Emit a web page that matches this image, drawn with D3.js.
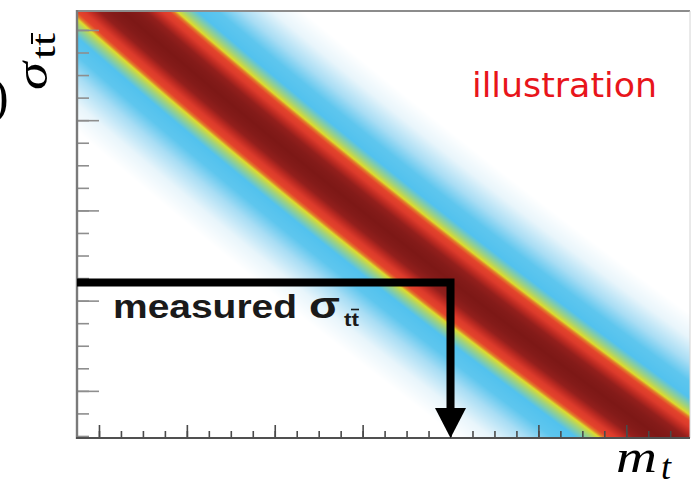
<!DOCTYPE html>
<html>
<head>
<meta charset="utf-8">
<script src="https://cdn.jsdelivr.net/npm/d3@7"></script>
<style>
  html, body { margin: 0; padding: 0; background: #fff; overflow: hidden; }
  svg { display: block; }
</style>
</head>
<body>
<svg id="chart" width="692" height="484"></svg>
<script>
// Ridge of the likelihood: top mass at which each cross-section is most likely (arbitrary units)
const ridgeSigma = [21, 18, 15, 12, 9, 6, 3, 0, -3];
const ridgeMt    = [-0.45, 3.05, 6.66, 10.39, 14.23, 18.19, 22.27, 26.46, 30.78];

const measuredSigma = 6.8;
const extractedMt = 17.0;

// Tick positions (no labels on either axis)
const xMinorTicks = d3.range(1, 28);
const xMajorTicks = [1, 5, 9, 13, 17, 21, 25];
const yMinorTicks = d3.range(0, 19);
const yMajorTicks = [2, 6, 10, 14, 18];

// ---------------------------------------------------------------
const plot = { left: 77, right: 690, top: 11, bottom: 438 };

const x = d3.scaleLinear().domain([0, 27.9]).range([plot.left, plot.right]);
const y = d3.scaleLinear().domain([-0.09, 18.84]).range([plot.bottom, plot.top]);

const svg = d3.select('#chart');

// Ridge line, sampled to find the centre of the band on every pixel row
const ridge = ridgeMt.map((m, i) => [m, ridgeSigma[i]]);
const ridgeLine = d3.line()
  .x(d => x(d[0]))
  .y(d => y(d[1]))
  .curve(d3.curveCatmullRom.alpha(0.5));

const ridgePath = svg.append('path')
  .attr('d', ridgeLine(ridge))
  .attr('fill', 'none')
  .attr('stroke', 'none');

const node = ridgePath.node();
const totalLen = node.getTotalLength();
const samples = [];
for (let s = 0; s <= totalLen; s += 1) {
  const p = node.getPointAtLength(s);
  samples.push([p.x, p.y]);
}
samples.sort((a, b) => a[1] - b[1]);
const byY = d3.bisector(d => d[1]).left;

function ridgeAt(Y) {
  let i = byY(samples, Y);
  i = Math.max(1, Math.min(samples.length - 1, i));
  const a = samples[i - 1], b = samples[i];
  const t = (Y - a[1]) / ((b[1] - a[1]) || 1);
  const xc = a[0] + t * (b[0] - a[0]);
  const j0 = Math.max(0, i - 10), j1 = Math.min(samples.length - 1, i + 10);
  const k = (samples[j1][0] - samples[j0][0]) / ((samples[j1][1] - samples[j0][1]) || 1);
  return [xc, k];
}

// Colour as a function of distance from the ridge, in units of the band width
const bandWidthPx = 34;
const bandColor = d3.scaleLinear()
  .domain([0, 0.25, 0.45, 0.6, 0.75, 0.9, 0.98, 1.05, 1.2, 1.45, 1.85, 2.3, 2.9, 3.5])
  .range(['#7d1816', '#841b19', '#931f1c', '#bb2a22', '#dc3a2b', '#e4452b', '#e27a2a', '#dcdb2e',
          '#9fd27e', '#52c2ee', '#5ec6ee', '#a8ddf4', '#e8f5fb', '#ffffff'])
  .clamp(true);

const LUT_N = 2048, LUT_MAX = 3.6;
const lut = new Uint8ClampedArray(LUT_N * 3);
for (let i = 0; i < LUT_N; i++) {
  const c = d3.rgb(bandColor(i / (LUT_N - 1) * LUT_MAX));
  lut[i * 3] = c.r; lut[i * 3 + 1] = c.g; lut[i * 3 + 2] = c.b;
}

const cw = plot.right - plot.left, ch = plot.bottom - plot.top;
const canvas = document.createElement('canvas');
canvas.width = cw; canvas.height = ch;
const ctx = canvas.getContext('2d');
const img = ctx.createImageData(cw, ch);
for (let r = 0; r < ch; r++) {
  const Y = plot.top + r + 0.5;
  const [xc, k] = ridgeAt(Y);
  const f = 1 / Math.sqrt(1 + k * k);
  for (let c = 0; c < cw; c++) {
    const X = plot.left + c + 0.5;
    const t = Math.abs(X - xc) * f / bandWidthPx;
    let li = Math.round(t / LUT_MAX * (LUT_N - 1));
    if (li > LUT_N - 1) li = LUT_N - 1;
    const o = (r * cw + c) * 4;
    img.data[o] = lut[li * 3];
    img.data[o + 1] = lut[li * 3 + 1];
    img.data[o + 2] = lut[li * 3 + 2];
    img.data[o + 3] = 255;
  }
}
ctx.putImageData(img, 0, 0);

svg.insert('image', ':first-child')
  .attr('x', plot.left).attr('y', plot.top)
  .attr('width', cw).attr('height', ch)
  .attr('href', canvas.toDataURL());

// Frame
svg.append('line').attr('x1', plot.left).attr('x2', plot.right)
  .attr('y1', plot.top).attr('y2', plot.top)
  .attr('stroke', '#8c8c8c').attr('stroke-width', 2);
svg.append('line').attr('x1', plot.right).attr('x2', plot.right)
  .attr('y1', plot.top).attr('y2', plot.bottom)
  .attr('stroke', '#d4d4d4').attr('stroke-width', 1);

// Axes: ticks point into the plot
function styleAxis(g, color) {
  g.select('.domain').remove();
  g.selectAll('.tick line').attr('stroke', color).attr('stroke-width', 1.6);
  g.selectAll('.tick text').remove();
}
svg.append('g').attr('transform', `translate(0,${plot.bottom})`)
  .call(d3.axisBottom(x).tickValues(xMinorTicks).tickSize(-7).tickSizeOuter(0).tickFormat(''))
  .call(g => styleAxis(g, '#4a4a4a'));
svg.append('g').attr('transform', `translate(0,${plot.bottom})`)
  .call(d3.axisBottom(x).tickValues(xMajorTicks).tickSize(-13).tickSizeOuter(0).tickFormat(''))
  .call(g => styleAxis(g, '#4a4a4a'));
svg.append('g').attr('transform', `translate(${plot.left},0)`)
  .call(d3.axisLeft(y).tickValues(yMinorTicks).tickSize(-12).tickSizeOuter(0).tickFormat(''))
  .call(g => styleAxis(g, '#8e8e8e'));
svg.append('g').attr('transform', `translate(${plot.left},0)`)
  .call(d3.axisLeft(y).tickValues(yMajorTicks).tickSize(-22).tickSizeOuter(0).tickFormat(''))
  .call(g => styleAxis(g, '#8e8e8e'));

svg.append('line').attr('x1', plot.left).attr('x2', plot.left)
  .attr('y1', plot.top - 1).attr('y2', plot.bottom + 1)
  .attr('stroke', '#7a7a7a').attr('stroke-width', 2.4);
svg.append('line').attr('x1', plot.left - 1).attr('x2', plot.right)
  .attr('y1', plot.bottom).attr('y2', plot.bottom)
  .attr('stroke', '#505050').attr('stroke-width', 2);

// Arrow: measured cross-section -> ridge -> mass
const headH = 30, headW = 31;
svg.append('path')
  .attr('d', `M${x(0)},${y(measuredSigma)} H${x(extractedMt)} V${plot.bottom - headH + 2}`)
  .attr('fill', 'none').attr('stroke', '#000').attr('stroke-width', 8)
  .attr('stroke-linejoin', 'miter');
svg.append('path')
  .attr('d', `M${x(extractedMt) - headW / 2},${plot.bottom - headH} L${x(extractedMt) + headW / 2},${plot.bottom - headH} L${x(extractedMt)},${plot.bottom} Z`)
  .attr('fill', '#000');

// "measured σ_tt̄" label
const sans = 'Liberation Sans, Arial, Helvetica, sans-serif';
svg.append('text').attr('x', 113).attr('y', 318)
  .attr('font-family', sans).attr('font-weight', 'bold').attr('font-size', 34)
  .attr('fill', '#1a1a1a')
  .attr('textLength', 184).attr('lengthAdjust', 'spacingAndGlyphs')
  .text('measured');
svg.append('text').attr('x', 309).attr('y', 318)
  .attr('font-family', sans).attr('font-weight', 'bold').attr('font-size', 36)
  .attr('fill', '#1a1a1a')
  .attr('textLength', 31).attr('lengthAdjust', 'spacingAndGlyphs')
  .text('σ');
svg.append('text').attr('x', 344).attr('y', 326)
  .attr('font-family', sans).attr('font-weight', 'bold').attr('font-size', 18)
  .attr('fill', '#1a1a1a')
  .attr('textLength', 15).attr('lengthAdjust', 'spacingAndGlyphs')
  .text('tt');
svg.append('line').attr('x1', 351).attr('x2', 359).attr('y1', 309.5).attr('y2', 309.5)
  .attr('stroke', '#1a1a1a').attr('stroke-width', 1.6);

// "illustration"
svg.append('text').attr('x', 472).attr('y', 97)
  .attr('font-family', 'DejaVu Sans, Verdana, sans-serif').attr('font-size', 34)
  .attr('fill', '#e8151b')
  .attr('textLength', 185).attr('lengthAdjust', 'spacingAndGlyphs')
  .text('illustration');

// y-axis title σ_tt̄ (rotated)
const serif = 'Liberation Serif, Times New Roman, serif';
const yTitle = svg.append('g').attr('transform', 'translate(47,90) rotate(-90)');
yTitle.append('text').attr('x', 0).attr('y', 0)
  .attr('font-family', serif).attr('font-style', 'italic').attr('font-size', 46)
  .attr('fill', '#000')
  .attr('textLength', 28).attr('lengthAdjust', 'spacingAndGlyphs')
  .text('σ');
yTitle.append('text').attr('x', 31).attr('y', 8)
  .attr('font-family', serif).attr('font-size', 34)
  .attr('fill', '#000')
  .attr('textLength', 26).attr('lengthAdjust', 'spacingAndGlyphs')
  .text('tt');
yTitle.append('line').attr('x1', 46).attr('x2', 57).attr('y1', -15).attr('y2', -15)
  .attr('stroke', '#000').attr('stroke-width', 2);

// x-axis title m_t
svg.append('text').attr('x', 616).attr('y', 472)
  .attr('font-family', serif).attr('font-style', 'italic').attr('font-size', 46)
  .attr('fill', '#000')
  .attr('textLength', 41).attr('lengthAdjust', 'spacingAndGlyphs')
  .text('m');
svg.append('text').attr('x', 661).attr('y', 479)
  .attr('font-family', serif).attr('font-style', 'italic').attr('font-size', 36)
  .attr('fill', '#000')
  .text('t');

// closing parenthesis at the left edge
svg.append('text').attr('x', -8).attr('y', 113)
  .attr('font-family', serif).attr('font-size', 50)
  .attr('fill', '#000')
  .text(')');
</script>
</body>
</html>
